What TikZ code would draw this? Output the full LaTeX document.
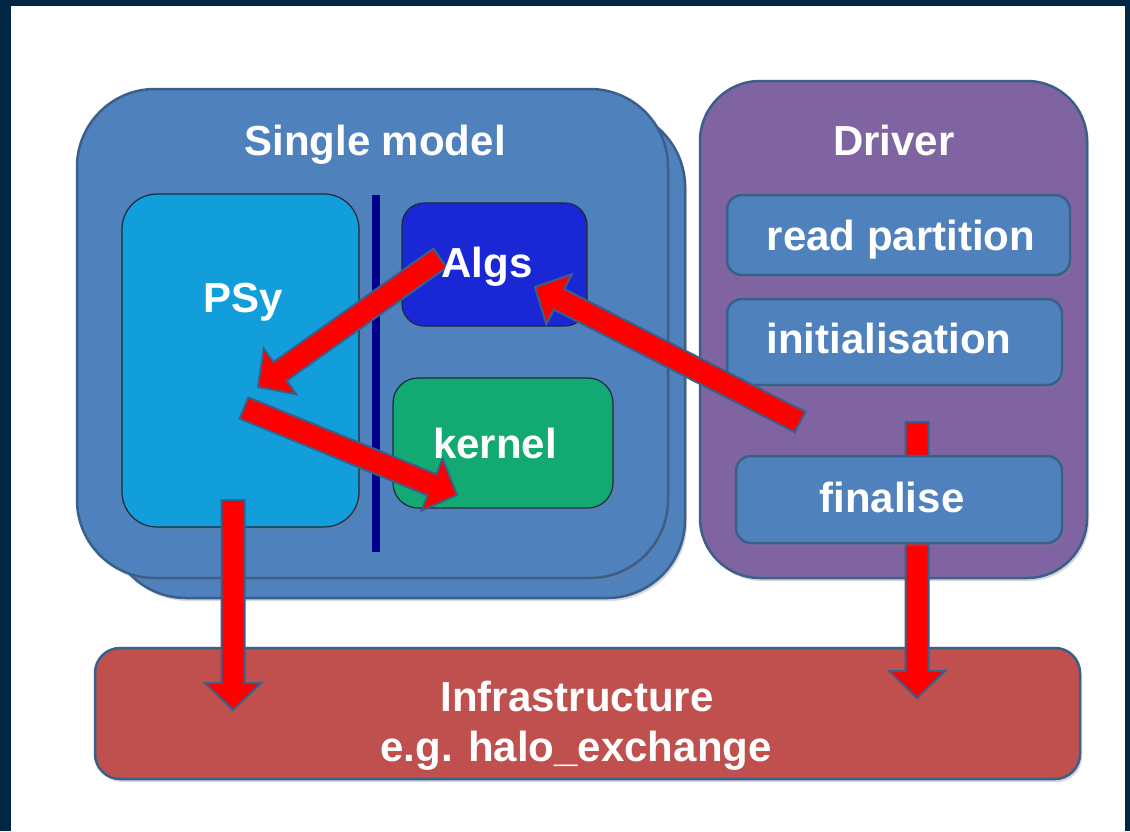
\documentclass[tikz,border=0pt]{standalone}
\usepackage{fontspec}
\setmainfont{Liberation Sans}
\usetikzlibrary{calc,shadows}
\definecolor{framecol}{HTML}{002646}
\definecolor{edge}{HTML}{3A5F8B}
\definecolor{modelcol}{HTML}{4F81BD}
\definecolor{drivercol}{HTML}{8064A2}
\definecolor{infracol}{HTML}{C0504D}
\definecolor{psycol}{HTML}{129EDB}
\definecolor{algscol}{HTML}{1A27D5}
\definecolor{kernelcol}{HTML}{13A972}
\definecolor{divcol}{HTML}{00008F}
\definecolor{inedge}{HTML}{1C2A3C}
\newcommand{\blockarrow}[3]{%
  \coordinate (#3h) at ($(#2)!27pt!(#1)$);
  \draw[barrow] ($(#1)!11.5pt!90:(#2)$) -- ($(#3h)!11.5pt!90:(#2)$) -- ($(#3h)!28pt!90:(#2)$) -- (#2)
    -- ($(#3h)!28pt!-90:(#2)$) -- ($(#3h)!11.5pt!-90:(#2)$) -- ($(#1)!11.5pt!-90:(#2)$) -- cycle;
}
\tikzset{
  box/.style={rectangle, inner sep=0pt, draw=edge, line width=2.5pt,
    drop shadow={opacity=0.3, shadow xshift=2pt, shadow yshift=-3pt}},
  inbox/.style={rectangle, inner sep=0pt, draw=inedge, line width=1.2pt,
    drop shadow={opacity=0.25, shadow xshift=2pt, shadow yshift=-2pt}},
  lbl/.style={text=white, font=\bfseries\fontsize{42}{50}\selectfont, anchor=base, inner sep=0pt},
  barrow/.style={fill=red, draw=edge, line width=2pt, line join=miter},
  divider/.style={draw=divcol, line width=8pt},
}
\begin{document}
\begin{tikzpicture}[x=1pt, y=-1pt]
\useasboundingbox (0,0) rectangle (1130,831);
\fill[framecol] (0,0) rectangle (1130,831);
\fill[white] (11,6) rectangle (1125,831);

% single model (stacked)
\node[box, fill=modelcol, minimum width=577pt, minimum height=489pt, rounded corners=78pt] (modelback) at (396.5,353.5) {};
\node[box, fill=modelcol, minimum width=591pt, minimum height=489pt, rounded corners=78pt] (model) at (372.5,333.5) {};
% driver
\node[box, fill=drivercol, minimum width=387pt, minimum height=497pt, rounded corners=60pt] (driver) at (893.5,329.5) {};
% infrastructure
\node[box, fill=infracol, minimum width=985pt, minimum height=131pt, rounded corners=25pt] (infra) at (587.5,713.5) {};

% inner boxes
\node[inbox, fill=psycol, minimum width=237pt, minimum height=333pt, rounded corners=35pt] (psy) at (240.5,360.5) {};
\node[inbox, fill=algscol, minimum width=185pt, minimum height=123pt, rounded corners=22pt] (algs) at (494.5,264.5) {};
\node[inbox, fill=kernelcol, minimum width=220pt, minimum height=130pt, rounded corners=25pt] (kernel) at (503,443) {};
\coordinate (divtop) at (376,195);
\coordinate (divbot) at (376,552);
\draw[divider] (divtop) -- (divbot);

\node[box, fill=modelcol, minimum width=343pt, minimum height=80pt, rounded corners=15pt] (readp) at (898.5,235) {};
\node[box, fill=modelcol, minimum width=335pt, minimum height=86pt, rounded corners=15pt] (init) at (894.5,342) {};

% arrow end points
\coordinate (a1t) at (440,258);  \coordinate (a1p) at (258,387);
\coordinate (a2t) at (244,408);  \coordinate (a2p) at (457,495);
\coordinate (a3t) at (800,422);  \coordinate (a3p) at (535,287);
\coordinate (a4t) at (233,500);  \coordinate (a4p) at (233,710);
\coordinate (a5t) at (917,422);  \coordinate (a5p) at (917,698);

\blockarrow{a1t}{a1p}{aone}
\blockarrow{a2t}{a2p}{atwo}
\blockarrow{a3t}{a3p}{athree}
\blockarrow{a4t}{a4p}{afour}
\blockarrow{a5t}{a5p}{afive}

\node[box, fill=modelcol, minimum width=326pt, minimum height=87pt, rounded corners=15pt] (final) at (899,499.5) {};

% labels
\node[lbl] (tmodel) at (375,155) {Single model};
\node[lbl] (tdriver) at (894,155) {Driver};
\node[lbl] (tpsy) at (243,312) {PSy};
\node[lbl] (talgs) at (487,277) {Algs};
\node[lbl] (tkernel) at (495,458) {kernel};
\node[lbl] (treadp) at (901,250) {read partition};
\node[lbl] (tinit) at (889,353) {initialisation};
\node[lbl] (tfinal) at (892,512) {finalise};
\node[lbl] (tinfra1) at (577,711) {Infrastructure};
\node[lbl] (tinfra2) at (576,761) {e.g. halo\_exchange};
\end{tikzpicture}
\end{document}
